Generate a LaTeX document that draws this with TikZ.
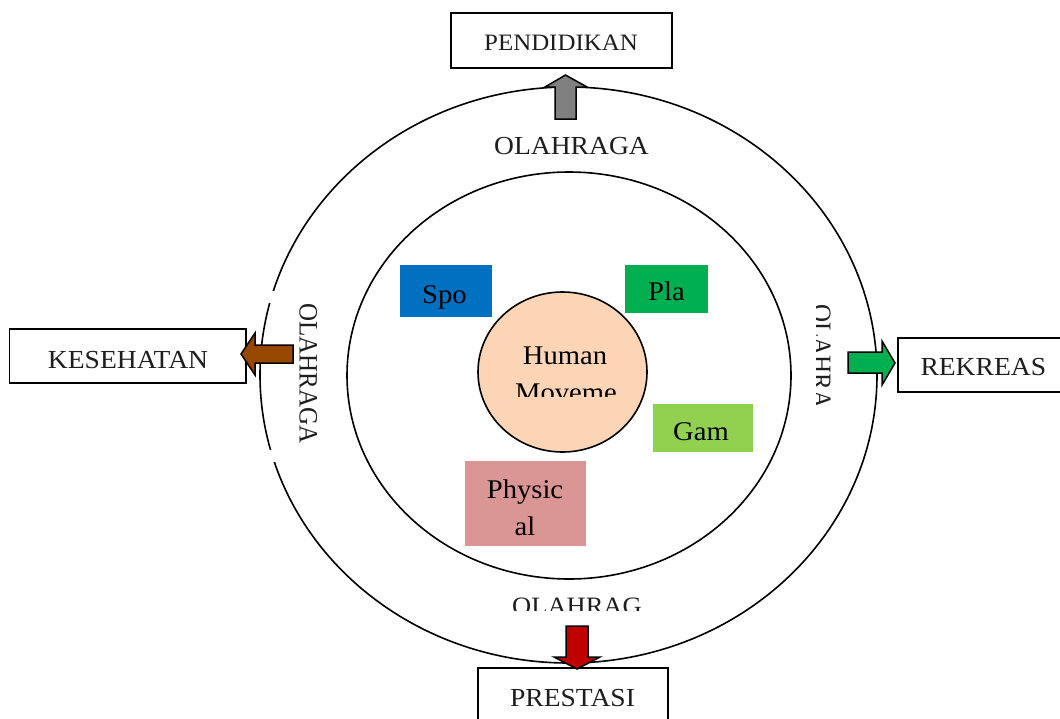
\documentclass[tikz,border=0pt]{standalone}
\usepackage{fontspec}
\setmainfont{Liberation Serif}
\usetikzlibrary{shapes.geometric}

\definecolor{spoblue}{RGB}{0,112,192}
\definecolor{plagreen}{RGB}{0,176,80}
\definecolor{gamgreen}{RGB}{146,208,80}
\definecolor{physpink}{RGB}{217,150,148}
\definecolor{hubpeach}{RGB}{251,213,181}
\definecolor{arrgray}{RGB}{128,128,128}
\definecolor{arrbrown}{RGB}{150,72,0}
\definecolor{arrred}{RGB}{192,0,0}
\definecolor{inkgray}{RGB}{30,30,30}

\begin{document}
\begin{tikzpicture}[x=1pt, y=-1pt,
  ring/.style={draw, ellipse, line width=1.6pt, inner sep=0pt},
  framebox/.style={draw, fill=white, line width=1.6pt, inner sep=0pt},
  tile/.style={inner sep=0pt, draw=none},
  blockarrow/.style={draw=black, line width=1.5pt, line join=miter},
  lbl/.style={inner sep=0pt, anchor=base, text=inkgray, xscale=1.06,
              font=\fontsize{26}{30}\selectfont},
  small/.style={font=\fontsize{23.5}{28}\selectfont},
  side/.style={font=\fontsize{25}{30}\selectfont},
  inner/.style={font=\fontsize{27}{32}\selectfont, text=black}]

\path[use as bounding box, clip] (0,0) rectangle (1060,718);

% circles
\node[ring, minimum width=617pt, minimum height=576pt] (outer) at (568.5,375) {};
\fill[white] (250,290.5) rectangle (285,302.5);
\fill[white] (250,450) rectangle (285,462);
\node[ring, minimum width=444pt, minimum height=407pt] (inner) at (569,375.5) {};
\node[ring, fill=hubpeach, minimum width=169pt, minimum height=160pt] (hub) at (562.5,372) {};

% coloured tiles
\node[tile, fill=spoblue, minimum width=92pt, minimum height=52pt] (spo) at (446,291) {};
\node[tile, fill=plagreen, minimum width=83pt, minimum height=48pt] (pla) at (666.5,289) {};
\node[tile, fill=gamgreen, minimum width=100pt, minimum height=48pt] (gam) at (703,428) {};
\node[tile, fill=physpink, minimum width=121pt, minimum height=85pt] (phys) at (525.5,503.5) {};

% outer label boxes
\node[framebox, minimum width=221pt, minimum height=55pt] (pend) at (561.3,40.2) {};
\node[framebox, minimum width=236.4pt, minimum height=54pt] (kes) at (127.5,356) {};
\node[framebox, minimum width=177pt, minimum height=54pt] (rek) at (986.5,365) {};
\node[framebox, minimum width=190pt, minimum height=57pt] (pres) at (573,696.5) {};

% block arrows
\draw[blockarrow, fill=arrgray] (555,119) -- (555,87) -- (545,87) -- (565.5,75)
  -- (587,87) -- (576,87) -- (576,119) -- cycle;
\draw[blockarrow, fill=arrbrown] (293,345) -- (255,345) -- (255,333) -- (241,354)
  -- (255,375) -- (255,363) -- (293,363) -- cycle;
\draw[blockarrow, fill=plagreen] (848,352) -- (882,352) -- (882,341) -- (895,363)
  -- (882,385) -- (882,373) -- (848,373) -- cycle;
\draw[blockarrow, fill=arrred] (566,626) -- (588,626) -- (588,657) -- (600,657)
  -- (577,669) -- (554,657) -- (566,657) -- cycle;

% box labels
\node[lbl, small] (tpend) at (561,50.7) {PENDIDIKAN};
\node[lbl] (tkes) at (128,368) {KESEHATAN};
\node[lbl] (trek) at (983.3,375.7) {REKREAS};
\node[lbl] (tpres) at (572.5,706) {PRESTASI};

% ring labels
\node[lbl] (otop) at (571.5,154.3) {OLAHRAGA};
\node[lbl, side, anchor=base west, rotate=-90] (oleft) at (299.5,303) {OLAHRAGA};
\begin{scope}
  \clip (816,295) rectangle (840,410);
  \node[lbl, side, anchor=base west, rotate=-90] (oright) at (813,304) {OLAHRA};
\end{scope}
\begin{scope}
  \clip (500,590) rectangle (660,610.7);
  \node[lbl, side, anchor=base west] (obot) at (512,614.5) {OLAHRAG};
\end{scope}

% inner labels
\node[lbl, inner] (thum) at (565,364.5) {Human};
\begin{scope}
  \clip (500,375) rectangle (640,396.7);
  \node[lbl, inner] (tmov) at (566,401.5) {Moveme};
\end{scope}
\node[lbl, inner] (tspo) at (444.5,303.3) {Spo};
\node[lbl, inner] (tpla) at (666.5,300) {Pla};
\node[lbl, inner] (tgam) at (701,440.7) {Gam};
\node[lbl, inner] (tphys) at (525,498) {Physic};
\node[lbl, inner] (tal) at (525,535) {al};
\end{tikzpicture}
\end{document}
